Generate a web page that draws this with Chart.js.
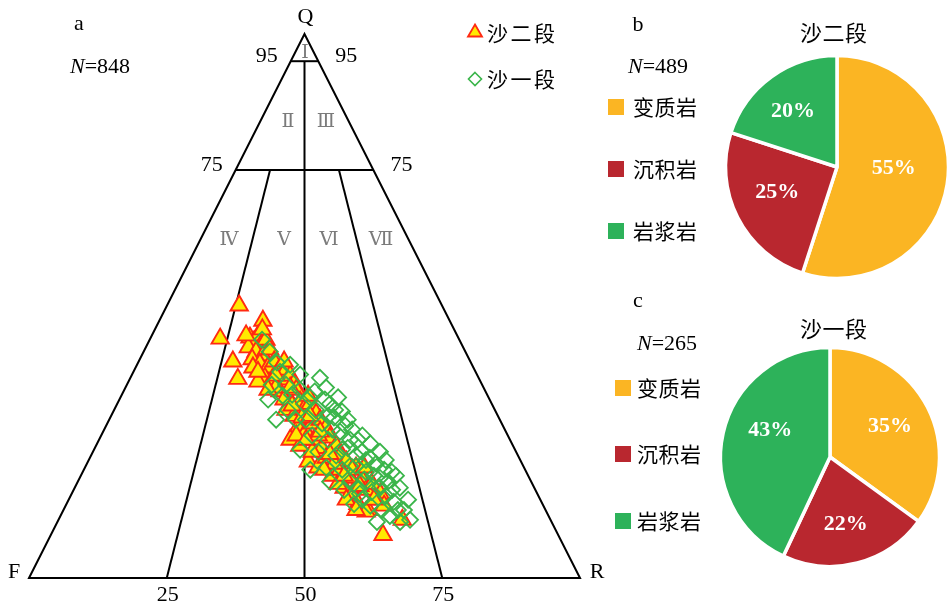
<!DOCTYPE html>
<html>
<head>
<meta charset="utf-8">
<title>QFR 三角图与岩屑组成</title>
<script src="https://cdn.jsdelivr.net/npm/chart.js@4.4.0/dist/chart.umd.min.js"></script>
<style>
  html, body { margin: 0; padding: 0; background: #fff; width: 951px; height: 606px; overflow: hidden; }
  canvas { position: absolute; }
  #ternary { left: 0; top: 0; width: 620px; height: 606px; }
  #pieB { left: 600px; top: 0; width: 351px; height: 290px; }
  #pieC { left: 600px; top: 290px; width: 351px; height: 316px; }
</style>
</head>
<body>
<canvas id="ternary" width="620" height="606"></canvas>
<canvas id="pieB" width="351" height="290"></canvas>
<canvas id="pieC" width="351" height="316"></canvas>
<script>
// ---------- data ----------
// 沙二段 sandstone compositions (Q, F, R in %)
const s2Q = [50.1,44.0,47.3,39.8,36.6,44.2,43.5,44.6,43.1,43.8,42.4,41.6,40.9,42.0,40.2,39.4,38.7,39.8,37.9,36.8,
             36.5,36.5,38.3,37.2,35.7,34.3,33.2,34.6,32.4,30.9,29.8,30.9,32.0,30.2,27.6,26.9,28.4,29.1,27.6,25.4,
             24.3,25.4,23.9,25.8,24.3,21.4,20.3,22.1,22.5,21.4,18.8,19.9,18.4,20.3,18.1,16.6,15.5,16.2,17.3,15.5,
             13.6,12.5,14.4,13.3,12.2,7.9,10.7,14.4,38.7,36.1,44.6,35.0,32.8,31.7,29.5,33.5,26.2,26.2,21.0,23.2,
             19.9,17.3,16.9,14.4,39.8,34.6,45.7,37.9,37.2,35.0,29.8,26.9,25.4,22.8,19.9,18.8,20.3,12.5];
const s2F = [36.8,43.3,33.9,43.1,43.8,37.8,37.4,36.1,36.2,35.1,39.0,38.0,37.1,35.3,39.4,38.4,37.3,35.6,35.9,38.8,
             37.6,35.8,34.2,34.0,34.1,37.3,36.4,34.2,34.6,37.9,37.0,34.7,33.0,32.8,37.4,36.3,34.4,32.6,32.3,39.9,
             38.7,35.6,34.9,32.5,32.1,38.6,37.4,35.0,32.3,31.7,35.6,33.6,32.5,30.5,30.5,34.5,33.6,30.7,29.1,28.5,
             33.5,32.2,29.8,28.9,32.7,31.8,26.9,35.2,40.0,40.4,38.3,37.7,37.3,36.4,35.7,32.6,34.4,38.4,34.1,37.0,
             31.4,35.3,31.5,30.2,33.8,39.3,34.8,39.5,36.6,35.1,34.1,33.7,37.0,34.0,36.5,33.4,29.0,34.4];
const s2R = [13.1,12.7,18.8,17.1,19.6,18.0,19.1,19.3,20.7,21.1,18.6,20.4,22.0,22.7,20.4,22.2,24.0,24.6,26.2,24.4,
             25.9,27.7,27.5,28.8,30.2,28.4,30.4,31.2,33.0,31.2,33.2,34.4,35.0,37.0,35.0,36.8,37.2,38.3,40.1,34.7,
             37.0,39.0,41.2,41.7,43.6,40.0,42.3,42.9,45.2,46.9,45.6,46.5,49.1,49.2,51.4,48.9,50.9,53.1,53.6,56.0,
             52.9,55.3,55.8,57.8,55.1,60.3,62.4,50.4,21.3,23.5,17.1,27.3,29.9,31.9,34.8,33.9,39.4,35.4,44.9,39.8,
             48.7,47.4,51.6,55.4,26.4,26.1,19.5,22.6,26.2,29.9,36.1,39.4,37.6,43.2,43.6,47.8,50.7,53.1];

// 沙一段 sandstone compositions (Q, F, R in %)
const s1Q = [43.8,41.6,39.6,32.8,37.9,35.5,33.7,34.6,33.2,36.8,35.0,30.9,32.0,33.2,29.1,28.4,29.5,30.6,29.1,26.2,
             25.4,26.9,27.3,25.4,23.6,23.2,22.5,23.9,23.2,24.7,20.3,19.9,20.6,21.7,21.0,19.9,17.7,18.1,18.8,17.7,
             18.8,16.2,15.5,15.8,16.6,16.2,16.6,13.6,13.3,12.5,14.0,12.5,10.3,10.3,19.9,17.7,30.9,29.1,21.7,10.7,
             34.3,32.8,30.9,29.8,28.0,27.3,25.4,26.2,23.6,22.5,22.1,23.2,20.6,19.5,18.4,19.5,16.6,15.1,12.5,11.4,
             14.4,14.4,32.0,29.1,33.5,35.5,39.2,37.4];
const s1F = [35.8,35.5,35.2,40.2,35.5,35.6,35.4,33.5,32.4,28.8,28.6,32.5,29.4,27.3,35.2,32.6,29.9,27.9,27.6,35.5,
             33.0,30.1,27.7,27.6,39.0,35.9,33.0,30.2,28.0,25.7,35.9,33.2,30.4,28.0,26.5,25.6,32.9,30.1,28.0,26.0,
             24.0,34.7,32.2,29.9,28.0,26.0,24.4,34.2,31.4,29.7,26.8,25.7,31.7,27.5,39.0,36.5,37.6,40.6,24.4,25.5,
             31.0,29.9,29.0,30.8,28.6,31.3,29.0,26.4,31.4,29.4,27.1,24.7,31.4,29.1,27.1,24.4,32.0,27.7,26.8,28.8,
             24.0,32.3,34.1,37.0,37.2,38.2,33.0,32.1];
const s1R = [20.4,22.9,25.2,27.0,26.6,28.9,30.9,31.9,34.4,34.4,36.4,36.6,38.6,39.5,35.7,39.0,40.6,41.5,43.3,38.3,
             41.6,43.0,45.0,47.0,37.4,40.9,44.5,45.9,48.8,49.6,43.8,46.9,49.0,50.3,52.5,54.5,49.4,51.8,53.2,56.3,
             57.2,49.1,52.3,54.3,55.4,57.8,59.0,52.2,55.3,57.8,59.2,61.8,58.0,62.2,41.1,45.8,31.5,30.3,53.9,63.8,
             34.7,37.3,40.1,39.4,43.4,41.4,45.6,47.4,45.0,48.1,50.8,52.1,48.0,51.4,54.5,56.1,51.4,57.2,60.7,59.8,
             61.6,53.3,33.9,33.9,29.3,26.3,27.8,30.5];

const seriesNames = ['沙二段', '沙一段'];
const sampleTotal = 848;

// QFR frame: Q levels of the horizontal dividers, F/R ratio dividers (R share of F+R, %)
const qLevels = [95, 75];
const ratioDividers = [25, 50, 75];
const ratioDividerTop = [75, 95, 75];
const baseTicks = [25, 50, 75];
const fieldNames = ['Ⅰ', 'Ⅱ', 'Ⅲ', 'Ⅳ', 'Ⅴ', 'Ⅵ', 'Ⅶ'];

// Rock fragment composition
const rockTypes = ['变质岩', '沉积岩', '岩浆岩'];
const pieS2 = [55, 25, 20];
const pieS1 = [35, 22, 43];
const countS2 = 489;
const countS1 = 265;

// ---------- shared styles ----------
const LATIN = '"Liberation Serif", "Times New Roman", serif';
const CJK = '"Noto Sans CJK SC", "Noto Sans CJK JP", sans-serif';
const rockColors = ['#FBB523', '#B9272F', '#2DB25A'];

function toPoints(Q, F, R) {
  return Q.map((q, i) => {
    const s = q + F[i] + R[i];
    return { x: (R[i] + q / 2) / s * 100, y: q / s * 100 };
  });
}

function spacedText(ctx, str, x, y, adv) {
  [...str].forEach((ch, i) => ctx.fillText(ch, x + i * adv, y));
}

function nLabel(ctx, n, x, y) {
  ctx.textAlign = 'left';
  ctx.textBaseline = 'alphabetic';
  ctx.fillStyle = '#000';
  ctx.font = 'italic 22px ' + LATIN;
  ctx.fillText('N', x, y);
  const w = ctx.measureText('N').width;
  ctx.font = '22px ' + LATIN;
  ctx.fillText('=' + n, x + w, y);
}

// ---------- ternary diagram ----------
const ternaryFrame = {
  id: 'ternaryFrame',
  beforeDatasetsDraw(chart) {
    const { ctx, scales: { x, y } } = chart;
    const P = (q, r) => [x.getPixelForValue(r + q / 2), y.getPixelForValue(q)];
    ctx.save();
    ctx.strokeStyle = '#000';
    ctx.lineWidth = 2;
    ctx.lineJoin = 'miter';
    const seg = (a, b) => { ctx.beginPath(); ctx.moveTo(a[0], a[1]); ctx.lineTo(b[0], b[1]); ctx.stroke(); };
    ctx.beginPath();
    ctx.moveTo(...P(0, 0));
    ctx.lineTo(...P(0, 100));
    ctx.lineTo(...P(100, 0));
    ctx.closePath();
    ctx.stroke();
    qLevels.forEach(q => seg(P(q, 0), P(q, 100 - q)));
    ratioDividers.forEach((t, i) => {
      const top = ratioDividerTop[i];
      seg(P(0, t), P(top, t / 100 * (100 - top)));
    });
    ctx.restore();
  },
  afterDraw(chart) {
    const { ctx, scales: { x, y } } = chart;
    const P = (q, r) => [x.getPixelForValue(r + q / 2), y.getPixelForValue(q)];
    ctx.save();
    ctx.fillStyle = '#000';
    ctx.font = '22px ' + LATIN;
    ctx.textBaseline = 'alphabetic';
    // apex labels
    const top = P(100, 0), fCorner = P(0, 0), rCorner = P(0, 100);
    ctx.textAlign = 'center';
    ctx.fillText('Q', top[0] + 1, top[1] - 11);
    ctx.fillText('F', fCorner[0] - 15, fCorner[1]);
    ctx.fillText('R', rCorner[0] + 17, rCorner[1]);
    // side ticks at Q levels
    qLevels.forEach(q => {
      const l = P(q, 0), r = P(q, 100 - q);
      ctx.textAlign = 'right';
      ctx.fillText(String(q), l[0] - 13, l[1] + 1);
      ctx.textAlign = 'left';
      ctx.fillText(String(q), r[0] + 17, r[1] + 1);
    });
    // base ticks
    ctx.textAlign = 'center';
    baseTicks.forEach(t => {
      const p = P(0, t);
      ctx.fillText(String(t), p[0] + 1, p[1] + 23);
    });
    // field names
    ctx.fillStyle = '#7b7b7b';
    ctx.font = '19px ' + LATIN + ', "DejaVu Serif"';
    const fieldPos = [[305, 58], [288, 127], [326, 127], [229, 245], [284, 245], [329, 245], [381, 245]];
    fieldNames.forEach((s, i) => ctx.fillText(s, fieldPos[i][0], fieldPos[i][1]));
    // panel letter and sample count
    ctx.fillStyle = '#000';
    ctx.font = '22px ' + LATIN;
    ctx.textAlign = 'center';
    ctx.fillText('a', 79, 30);
    nLabel(ctx, sampleTotal, 70, 73);
    // legend
    const ds = chart.data.datasets;
    ctx.lineWidth = 1.8;
    ctx.strokeStyle = ds[0].borderColor;
    ctx.fillStyle = ds[0].backgroundColor;
    ctx.beginPath();
    ctx.moveTo(475, 24.5); ctx.lineTo(482, 36.5); ctx.lineTo(468, 36.5); ctx.closePath();
    ctx.fill(); ctx.stroke();
    ctx.strokeStyle = ds[1].borderColor;
    ctx.lineWidth = 1.6;
    ctx.beginPath();
    ctx.moveTo(475, 72.5); ctx.lineTo(481.5, 79); ctx.lineTo(475, 85.5); ctx.lineTo(468.5, 79); ctx.closePath();
    ctx.stroke();
    ctx.fillStyle = '#000';
    ctx.font = '21px ' + CJK;
    ctx.textAlign = 'left';
    ctx.textBaseline = 'middle';
    spacedText(ctx, seriesNames[0], 487, 33, 23.5);
    spacedText(ctx, seriesNames[1], 487, 79, 23.5);
    ctx.restore();
  }
};

new Chart(document.getElementById('ternary'), {
  type: 'scatter',
  data: {
    datasets: [
      {
        label: seriesNames[0],
        data: toPoints(s2Q, s2F, s2R),
        pointStyle: 'triangle',
        pointRadius: 10,
        backgroundColor: '#FFEA00',
        borderColor: '#FF2A12',
        borderWidth: 1.9,
        order: 1,
        clip: false
      },
      {
        label: seriesNames[1],
        data: toPoints(s1Q, s1F, s1R),
        pointStyle: 'rectRot',
        pointRadius: 8,
        backgroundColor: 'rgba(255,255,255,0)',
        borderColor: '#3AB54A',
        borderWidth: 1.8,
        order: 0,
        clip: false
      }
    ]
  },
  options: {
    responsive: false,
    animation: false,
    events: [],
    layout: { padding: { left: 29, right: 40, top: 34, bottom: 28 } },
    scales: {
      x: { type: 'linear', min: 0, max: 100, display: false },
      y: { type: 'linear', min: 0, max: 100, display: false }
    },
    plugins: { legend: { display: false }, tooltip: { enabled: false } }
  },
  plugins: [ternaryFrame]
});

// ---------- rock fragment pies ----------
function pieDecor(cfg) {
  return {
    id: 'pieDecor',
    afterDatasetsDraw(chart) {
      const { ctx } = chart;
      const meta = chart.getDatasetMeta(0);
      const values = chart.data.datasets[0].data;
      ctx.save();
      ctx.fillStyle = '#fff';
      ctx.font = 'bold 22px ' + LATIN;
      ctx.textAlign = 'center';
      ctx.textBaseline = 'middle';
      meta.data.forEach((arc, i) => {
        const p = arc.getProps(['x', 'y', 'startAngle', 'endAngle', 'outerRadius'], true);
        const a = (p.startAngle + p.endAngle) / 2 + cfg.labelTurn[i] * Math.PI / 180;
        const r = p.outerRadius * cfg.labelRadius[i];
        ctx.fillText(values[i] + '%', p.x + Math.cos(a) * r, p.y + Math.sin(a) * r + 1);
      });
      ctx.restore();
    },
    afterDraw(chart) {
      const { ctx } = chart;
      ctx.save();
      ctx.fillStyle = '#000';
      ctx.font = '22px ' + LATIN;
      ctx.textAlign = 'center';
      ctx.textBaseline = 'alphabetic';
      ctx.fillText(cfg.letter, cfg.letterPos[0], cfg.letterPos[1]);
      nLabel(ctx, cfg.count, cfg.nPos[0], cfg.nPos[1]);
      // title
      ctx.font = '22px ' + CJK;
      ctx.textAlign = 'left';
      ctx.textBaseline = 'middle';
      spacedText(ctx, cfg.title, cfg.titlePos[0], cfg.titlePos[1], 22.5);
      // legend
      rockTypes.forEach((name, i) => {
        const yc = cfg.legendY[i];
        ctx.fillStyle = rockColors[i];
        ctx.fillRect(cfg.boxX, yc - 8, 16, 16);
        ctx.fillStyle = '#000';
        ctx.font = '21px ' + CJK;
        spacedText(ctx, name, cfg.textX, yc, 21.5);
      });
      ctx.restore();
    }
  };
}

function makePie(id, values, cfg) {
  new Chart(document.getElementById(id), {
    type: 'pie',
    data: {
      labels: rockTypes,
      datasets: [{
        data: values,
        backgroundColor: rockColors,
        borderColor: '#ffffff',
        borderWidth: 3.5,
        radius: cfg.radius
      }]
    },
    options: {
      responsive: false,
      animation: false,
      events: [],
      layout: { padding: cfg.padding },
      plugins: { legend: { display: false }, tooltip: { enabled: false } }
    },
    plugins: [pieDecor(cfg)]
  });
}

makePie('pieB', pieS2, {
  radius: 111.5,
  padding: { left: 125, right: 2, top: 55, bottom: 11 },
  labelRadius: [0.51, 0.58, 0.64],
  labelTurn: [-9, 4.5, -2],
  letter: 'b', letterPos: [38, 31],
  count: countS2, nPos: [28, 73],
  title: seriesNames[0], titlePos: [200, 33],
  legendY: [107, 169, 231], boxX: 8, textX: 33
});

makePie('pieC', pieS1, {
  radius: 109.5,
  padding: { left: 120, right: 11, top: 57, bottom: 39 },
  labelRadius: [0.62, 0.62, 0.6],
  labelTurn: [-1, 1, 12],
  letter: 'c', letterPos: [38, 17],
  count: countS1, nPos: [37, 60],
  title: seriesNames[1], titlePos: [200, 39],
  legendY: [98, 164, 231], boxX: 15, textX: 37
});
</script>
</body>
</html>
